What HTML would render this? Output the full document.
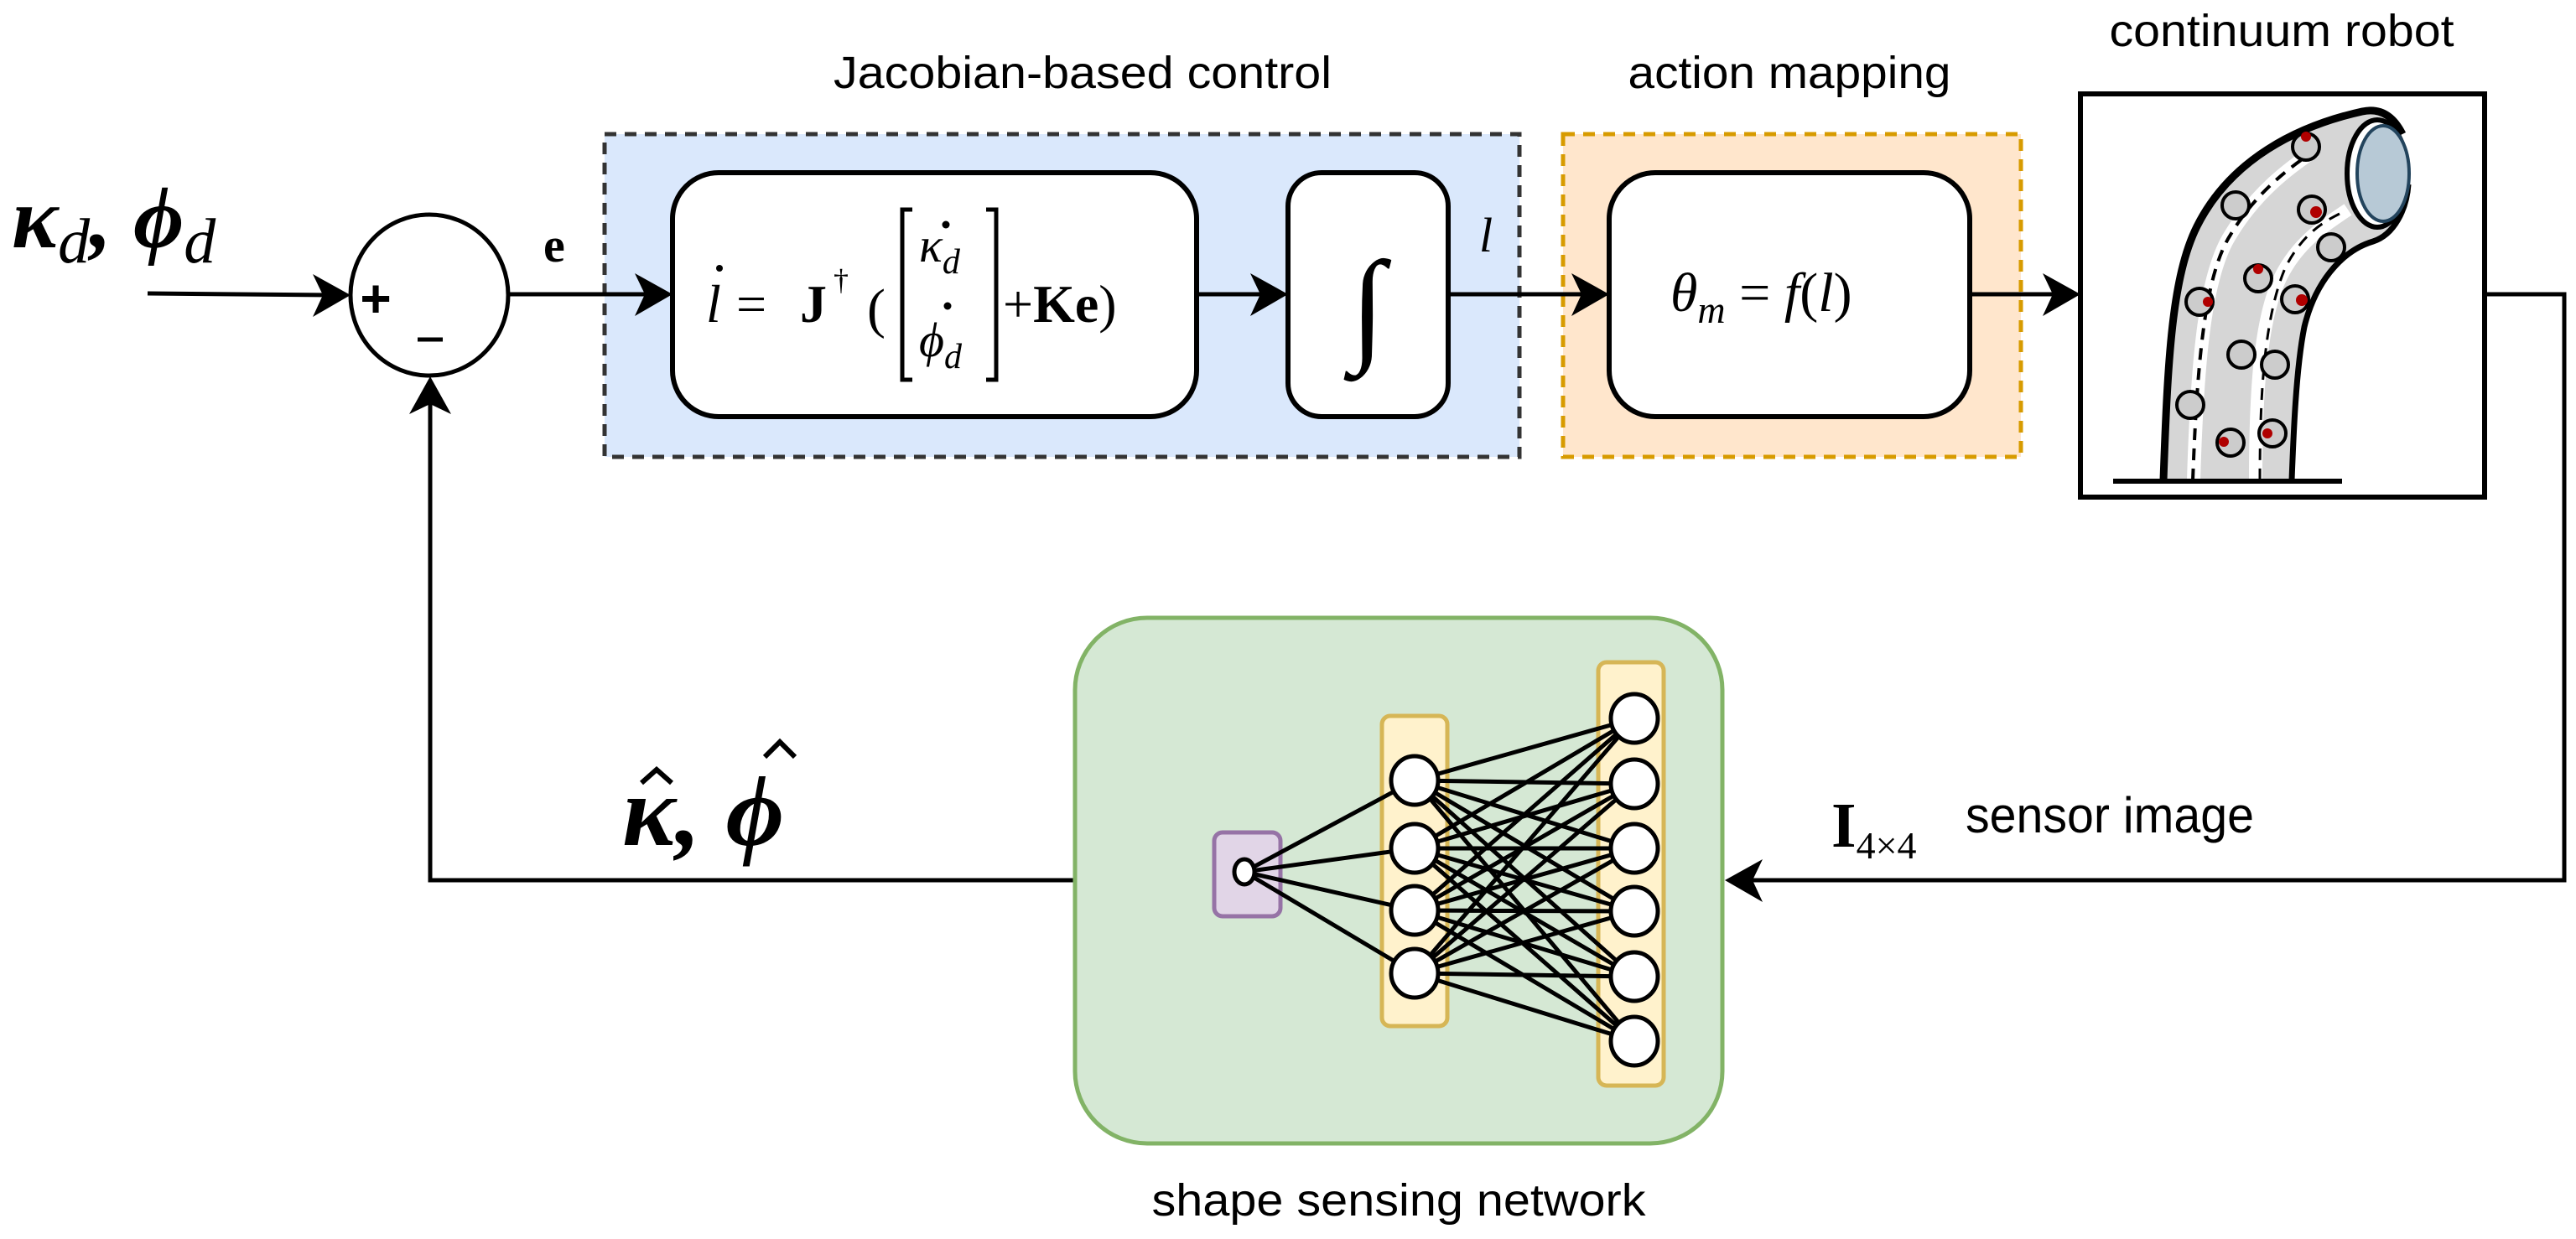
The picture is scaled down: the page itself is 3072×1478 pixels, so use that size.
<!DOCTYPE html>
<html><head><meta charset="utf-8"><style>
html,body{margin:0;padding:0;background:#fff;}
svg{display:block;}
.s{font-family:"Liberation Sans",Arial,sans-serif;fill:#000;}
.m{font-family:"Liberation Serif","DejaVu Serif",serif;fill:#000;}
</style></head><body>
<svg width="3072" height="1478" viewBox="0 0 3072 1478" xmlns="http://www.w3.org/2000/svg">

<!-- group boxes -->
<rect x="721" y="160" width="1091" height="385" fill="#dae8fc" stroke="#333" stroke-width="5" stroke-dasharray="14,10"/>
<rect x="1864" y="160" width="546" height="385" fill="#ffe6cc" stroke="#d79b00" stroke-width="5" stroke-dasharray="14,10"/>

<!-- titles -->
<text class="s" x="1291" y="105" font-size="54" text-anchor="middle" textLength="594" lengthAdjust="spacingAndGlyphs">Jacobian-based control</text>
<text class="s" x="2134" y="105" font-size="54" text-anchor="middle" textLength="385" lengthAdjust="spacingAndGlyphs">action mapping</text>
<text class="s" x="2721" y="55" font-size="54" text-anchor="middle" textLength="411" lengthAdjust="spacingAndGlyphs">continuum robot</text>
<text class="s" x="1668" y="1450" font-size="54" text-anchor="middle" textLength="589" lengthAdjust="spacingAndGlyphs">shape sensing network</text>

<!-- inner boxes -->
<rect x="802" y="206" width="625" height="291" rx="55" fill="#fff" stroke="#000" stroke-width="6"/>
<rect x="1536" y="206" width="191" height="291" rx="40" fill="#fff" stroke="#000" stroke-width="6"/>
<rect x="1919" y="206" width="430" height="291" rx="55" fill="#fff" stroke="#000" stroke-width="6"/>

<!-- sum circle -->
<ellipse cx="512" cy="352" rx="94" ry="96" fill="#fff" stroke="#000" stroke-width="5"/>
<text class="s" x="448" y="378" font-size="64" font-weight="bold" text-anchor="middle">+</text>
<line x1="498" y1="405" x2="528" y2="405" stroke="#000" stroke-width="5"/>

<!-- connectors -->
<g stroke="#000" stroke-width="5" fill="none">
<line x1="176" y1="350" x2="400" y2="352"/>
<line x1="606" y1="351" x2="780" y2="351"/>
<line x1="1427" y1="351" x2="1515" y2="351"/>
<line x1="1727" y1="351" x2="1898" y2="351"/>
<line x1="2349" y1="351" x2="2460" y2="351"/>
<polyline points="2963,351 3058,351 3058,1050 2080,1050"/>
<polyline points="1282,1050 513,1050 513,470"/>
<line x1="1484" y1="1040" x2="1320" y2="1044"/>
</g>
<g fill="#000">
<polygon points="418,352 373,327 385,352 373,378"/>
<polygon points="802,351 757,326 769,351 757,377"/>
<polygon points="1536,351 1491,326 1503,351 1491,377"/>
<polygon points="1919,351 1874,326 1886,351 1874,377"/>
<polygon points="2481,351 2436,326 2448,351 2436,377"/>
<polygon points="513,449 488,494 513,482 538,494"/>
<polygon points="2057,1050 2102,1025 2090,1050 2102,1076"/>
<polygon points="1299,1044 1344,1020 1332,1044 1344,1068"/>
</g>

<!-- math labels -->
<g class="m">
<text x="14" y="295" font-size="104" font-style="italic" font-weight="bold">κ<tspan font-size="76" dy="18" font-weight="normal">d</tspan><tspan dy="-18">, </tspan><tspan>ϕ</tspan><tspan font-size="76" dy="18" font-weight="normal">d</tspan></text>
<text x="648" y="312" font-size="58" font-weight="bold">e</text>
<text x="1764" y="300" font-size="58" font-style="italic">l</text>
<text x="842" y="384" font-size="64" font-style="italic">l</text>
<text x="878" y="384" font-size="64">=</text>
<text x="954" y="384" font-size="64" font-weight="bold">J</text>
<text x="994" y="346" font-size="36">†</text>
<text x="1034" y="390" font-size="66">(</text>
<text x="1096" y="312" font-size="58" font-style="italic">κ<tspan font-size="42" dy="14">d</tspan></text>
<text x="1096" y="425" font-size="58" font-style="italic">ϕ<tspan font-size="42" dy="14">d</tspan></text>
<text x="1196" y="384" font-size="64">+<tspan font-weight="bold">Ke</tspan>)</text>
<text x="1631" y="415" font-size="150" text-anchor="middle" font-style="italic">∫</text>
<text x="1992" y="371" font-size="66" font-style="italic">θ<tspan font-size="46" dy="14">m</tspan><tspan dy="-14" font-style="normal"> = </tspan>f<tspan font-style="normal">(</tspan>l<tspan font-style="normal">)</tspan></text>
<text x="742" y="1008" font-size="120" font-style="italic" font-weight="bold">κ, ϕ</text>
<text x="2184" y="1010" font-size="76" font-weight="bold">I<tspan font-size="46" font-weight="normal" dy="14">4×4</tspan></text>
</g>
<!-- dots and hats -->
<g fill="#000">
<circle cx="858" cy="320" r="4"/>
<circle cx="1128" cy="268" r="4.5"/>
<circle cx="1130" cy="365" r="4.5"/>
</g>
<g stroke="#000" stroke-width="6" fill="none">
<polyline points="765,934 783,918 801,934"/>
<polyline points="912,903 930,885 948,903"/>
</g>
<!-- matrix brackets -->
<g stroke="#000" stroke-width="5" fill="none">
<polyline points="1088,250 1076,250 1076,453 1088,453"/>
<polyline points="1176,250 1188,250 1188,453 1176,453"/>
</g>
<text class="s" x="2344" y="993" font-size="60" textLength="344" lengthAdjust="spacingAndGlyphs">sensor image</text>

<!-- robot -->
<rect x="2481" y="112" width="482" height="481" fill="#fff" stroke="#000" stroke-width="6"/>
<path d="M2580,573 C2585,430 2590,330 2620,270 C2660,190 2740,150 2817,133 L2850,140 L2850,280 C2790,300 2760,340 2748,390 C2738,440 2735,520 2733,573 Z" fill="#d6d6d6"/>
<path d="M2616,573 C2620,440 2628,330 2660,280 C2690,230 2730,200 2760,180" stroke="#fff" stroke-width="16" fill="none"/>
<path d="M2690,573 C2690,470 2695,380 2720,330 C2740,290 2770,270 2800,250" stroke="#fff" stroke-width="16" fill="none"/>
<path d="M2615,573 C2620,440 2628,330 2660,280 C2690,230 2730,200 2760,180" stroke="#000" stroke-width="4" stroke-dasharray="14,10" fill="none"/>
<path d="M2695,573 C2695,470 2700,380 2725,320 C2745,280 2770,265 2790,255" stroke="#000" stroke-width="3" stroke-dasharray="14,10" fill="none"/>
<path d="M2580,573 C2585,430 2590,330 2620,270 C2660,190 2740,150 2817,133 C2840,128 2855,140 2865,160" stroke="#000" stroke-width="9" fill="none"/>
<path d="M2733,573 C2735,520 2738,440 2748,390 C2760,340 2790,300 2830,288 C2855,280 2870,250 2872,220" stroke="#000" stroke-width="7" fill="none"/>
<ellipse cx="2835" cy="207" rx="36" ry="64" fill="#fff" stroke="#000" stroke-width="6"/>
<ellipse cx="2842" cy="207" rx="31" ry="57" fill="#b7c9d6" stroke="#23445d" stroke-width="4"/>
<g fill="#ccc" stroke="#000" stroke-width="4">
<circle cx="2750" cy="175" r="16"/><circle cx="2666" cy="245" r="16"/><circle cx="2757" cy="250" r="16"/>
<circle cx="2780" cy="295" r="16"/><circle cx="2693" cy="332" r="16"/><circle cx="2737" cy="357" r="16"/>
<circle cx="2623" cy="360" r="16"/><circle cx="2673" cy="423" r="16"/><circle cx="2713" cy="435" r="16"/>
<circle cx="2612" cy="483" r="16"/><circle cx="2660" cy="528" r="16"/><circle cx="2710" cy="517" r="16"/>
</g>
<g fill="#b00000">
<circle cx="2750" cy="163" r="6"/><circle cx="2762" cy="253" r="7"/><circle cx="2693" cy="321" r="6"/>
<circle cx="2745" cy="358" r="7"/><circle cx="2633" cy="360" r="6"/><circle cx="2652" cy="527" r="6"/><circle cx="2704" cy="517" r="6"/>
</g>
<line x1="2520" y1="574" x2="2793" y2="574" stroke="#000" stroke-width="6"/>

<!-- shape sensing network -->
<rect x="1282" y="737" width="772" height="627" rx="86" fill="#d5e8d4" stroke="#82b366" stroke-width="5"/>
<rect x="1448" y="993" width="79" height="100" rx="10" fill="#e1d5e7" stroke="#9673a6" stroke-width="5"/>
<rect x="1648" y="854" width="78" height="370" rx="10" fill="#fff2cc" stroke="#d6b656" stroke-width="5"/>
<rect x="1906" y="790" width="78" height="505" rx="10" fill="#fff2cc" stroke="#d6b656" stroke-width="5"/>
<g stroke="#000" stroke-width="5">
<line x1="1484" y1="1040" x2="1687" y2="931"/><line x1="1484" y1="1040" x2="1687" y2="1012"/>
<line x1="1484" y1="1040" x2="1687" y2="1086"/><line x1="1484" y1="1040" x2="1687" y2="1161"/>
</g>
<g stroke="#000" stroke-width="5">
<path d="M1687,931 L1949,857 M1687,931 L1949,935 M1687,931 L1949,1012 M1687,931 L1949,1087 M1687,931 L1949,1165 M1687,931 L1949,1242
M1687,1012 L1949,857 M1687,1012 L1949,935 M1687,1012 L1949,1012 M1687,1012 L1949,1087 M1687,1012 L1949,1165 M1687,1012 L1949,1242
M1687,1086 L1949,857 M1687,1086 L1949,935 M1687,1086 L1949,1012 M1687,1086 L1949,1087 M1687,1086 L1949,1165 M1687,1086 L1949,1242
M1687,1161 L1949,857 M1687,1161 L1949,935 M1687,1161 L1949,1012 M1687,1161 L1949,1087 M1687,1161 L1949,1165 M1687,1161 L1949,1242"/>
</g>
<g fill="#fff" stroke="#000" stroke-width="5">
<ellipse cx="1484" cy="1040" rx="12" ry="15"/>
<ellipse cx="1687" cy="931" rx="28" ry="29"/><ellipse cx="1687" cy="1012" rx="28" ry="29"/>
<ellipse cx="1687" cy="1086" rx="28" ry="29"/><ellipse cx="1687" cy="1161" rx="28" ry="29"/>
<ellipse cx="1949" cy="857" rx="28" ry="29"/><ellipse cx="1949" cy="935" rx="28" ry="29"/>
<ellipse cx="1949" cy="1012" rx="28" ry="29"/><ellipse cx="1949" cy="1087" rx="28" ry="29"/>
<ellipse cx="1949" cy="1165" rx="28" ry="29"/><ellipse cx="1949" cy="1242" rx="28" ry="29"/>
</g>
</svg>
</body></html>
